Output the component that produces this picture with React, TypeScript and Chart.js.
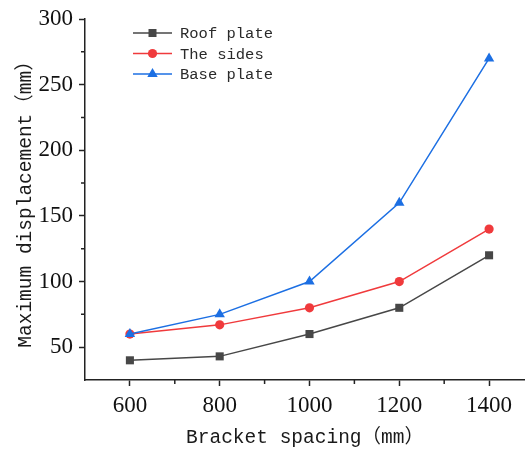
import React, { useEffect, useRef } from 'react';
import { Chart, registerables } from 'chart.js';

Chart.register(...registerables);

const spacing = [600, 800, 1000, 1200, 1400];
const roofPlate = [40, 43, 60, 80, 120];
const theSides = [60, 67, 80, 100, 140];
const basePlate = [60, 75, 100, 160, 270];
const xTicks = [600, 800, 1000, 1200, 1400];
const xMinor = [700, 900, 1100, 1300];
const yTicks = [50, 100, 150, 200, 250, 300];
const yMinor = [75, 125, 175, 225, 275];
const seriesNames = ['Roof plate', 'The sides', 'Base plate'];

const GRAY = '#474747';
const RED = '#f03a3c';
const BLUE = '#1c6fe3';
const AXIS = '#222222';
const MONO = '"Liberation Mono", "Noto Sans CJK SC", monospace';
const SERIF = '"Liberation Serif", serif';

const toXY = (ys: number[]) => spacing.map((x, i) => ({ x, y: ys[i] }));

function drawMarker(ctx: CanvasRenderingContext2D, style: string, x: number, y: number, color: string) {
  ctx.save();
  ctx.fillStyle = color;
  ctx.beginPath();
  if (style === 'rect') {
    ctx.rect(x - 4, y - 4, 8, 8);
  } else if (style === 'circle') {
    ctx.arc(x, y, 4.6, 0, Math.PI * 2);
  } else {
    const r = 6;
    ctx.moveTo(x, y - r);
    ctx.lineTo(x + r * 0.866, y + r * 0.5);
    ctx.lineTo(x - r * 0.866, y + r * 0.5);
    ctx.closePath();
  }
  ctx.fill();
  ctx.restore();
}

const extrasPlugin = {
  id: 'extras',
  afterDraw(chart: any) {
    const ctx: CanvasRenderingContext2D = chart.ctx;
    const xs = chart.scales.x;
    const ys = chart.scales.y;
    const area = chart.chartArea;
    ctx.save();
    ctx.strokeStyle = AXIS;
    ctx.lineWidth = 1.5;
    ctx.beginPath();
    xMinor.forEach((v) => {
      const px = xs.getPixelForValue(v);
      ctx.moveTo(px, area.bottom);
      ctx.lineTo(px, area.bottom + 4);
    });
    yMinor.forEach((v) => {
      const py = ys.getPixelForValue(v);
      ctx.moveTo(area.left - 4, py);
      ctx.lineTo(area.left, py);
    });
    ctx.stroke();

    // legend
    const styles = ['rect', 'circle', 'triangle'];
    const colors = [GRAY, RED, BLUE];
    const rows = [33, 53.5, 74];
    ctx.font = '15.5px ' + MONO;
    ctx.textBaseline = 'middle';
    ctx.textAlign = 'left';
    seriesNames.forEach((name, i) => {
      const y = rows[i];
      ctx.strokeStyle = colors[i];
      ctx.lineWidth = 1.5;
      ctx.beginPath();
      ctx.moveTo(133, y);
      ctx.lineTo(172, y);
      ctx.stroke();
      drawMarker(ctx, styles[i], 152.5, y, colors[i]);
      ctx.fillStyle = '#2a2a2a';
      ctx.fillText(name, 180, y + 1);
    });
    ctx.restore();
  },
};

export default function App() {
  const canvasRef = useRef<HTMLCanvasElement | null>(null);

  useEffect(() => {
    const canvas = canvasRef.current;
    if (!canvas) return;
    const chart = new Chart(canvas, {
      type: 'line',
      data: {
        datasets: [
          {
            label: seriesNames[0],
            data: toXY(roofPlate),
            borderColor: GRAY,
            backgroundColor: GRAY,
            borderWidth: 1.5,
            pointStyle: 'rect',
            pointRadius: 5.7,
            pointBorderWidth: 0,
            order: 2,
          },
          {
            label: seriesNames[1],
            data: toXY(theSides),
            borderColor: RED,
            backgroundColor: RED,
            borderWidth: 1.5,
            pointStyle: 'circle',
            pointRadius: 4.6,
            pointBorderWidth: 0,
            order: 1,
          },
          {
            label: seriesNames[2],
            data: toXY(basePlate),
            borderColor: BLUE,
            backgroundColor: BLUE,
            borderWidth: 1.5,
            pointStyle: 'triangle',
            pointRadius: 6,
            pointBorderWidth: 0,
            order: 0,
          },
        ],
      },
      options: {
        animation: false,
        responsive: false,
        maintainAspectRatio: false,
        layout: { padding: { top: 19, right: 0, bottom: 0, left: 0 } },
        plugins: { legend: { display: false }, tooltip: { enabled: false } },
        scales: {
          x: {
            type: 'linear',
            min: 500,
            max: 1480,
            afterBuildTicks: (s: any) => {
              s.ticks = xTicks.map((v) => ({ value: v }));
            },
            afterFit: (s: any) => {
              s.height = 70;
              s.paddingLeft = 0;
              s.paddingRight = 0;
            },
            ticks: {
              callback: (v: any) => String(v),
              font: { family: SERIF, size: 23 },
              color: '#111111',
              padding: 6,
              maxRotation: 0,
            },
            grid: {
              drawOnChartArea: false,
              drawTicks: true,
              tickLength: 6,
              tickWidth: 1.5,
              tickColor: AXIS,
            },
            border: { display: true, color: AXIS, width: 1.5 },
            title: {
              display: true,
              text: 'Bracket spacing（mm）',
              font: { family: MONO, size: 19.5 },
              color: '#1a1a1a',
              padding: { top: 0, bottom: 0 },
            },
          },
          y: {
            type: 'linear',
            min: 25,
            max: 300,
            afterBuildTicks: (s: any) => {
              s.ticks = yTicks.map((v) => ({ value: v }));
            },
            afterFit: (s: any) => {
              s.width = 85;
              s.paddingTop = 0;
              s.paddingBottom = 0;
            },
            ticks: {
              callback: (v: any) => String(v),
              font: { family: SERIF, size: 23 },
              color: '#111111',
              padding: 6,
            },
            grid: {
              drawOnChartArea: false,
              drawTicks: true,
              tickLength: 6,
              tickWidth: 1.5,
              tickColor: AXIS,
            },
            border: { display: true, color: AXIS, width: 1.5 },
            title: {
              display: true,
              text: 'Maximum displacement（mm）',
              font: { family: MONO, size: 19.5 },
              color: '#1a1a1a',
              padding: { top: 14, bottom: 0 },
            },
          },
        },
      },
      plugins: [extrasPlugin],
    } as any);
    return () => chart.destroy();
  }, []);

  return (
    <div style={{ position: 'fixed', left: 0, top: 0, width: 525, height: 450, overflow: 'hidden', background: '#ffffff' }}>
      <canvas ref={canvasRef} width={531} height={450} style={{ width: 531, height: 450, display: 'block' }} />
    </div>
  );
}
